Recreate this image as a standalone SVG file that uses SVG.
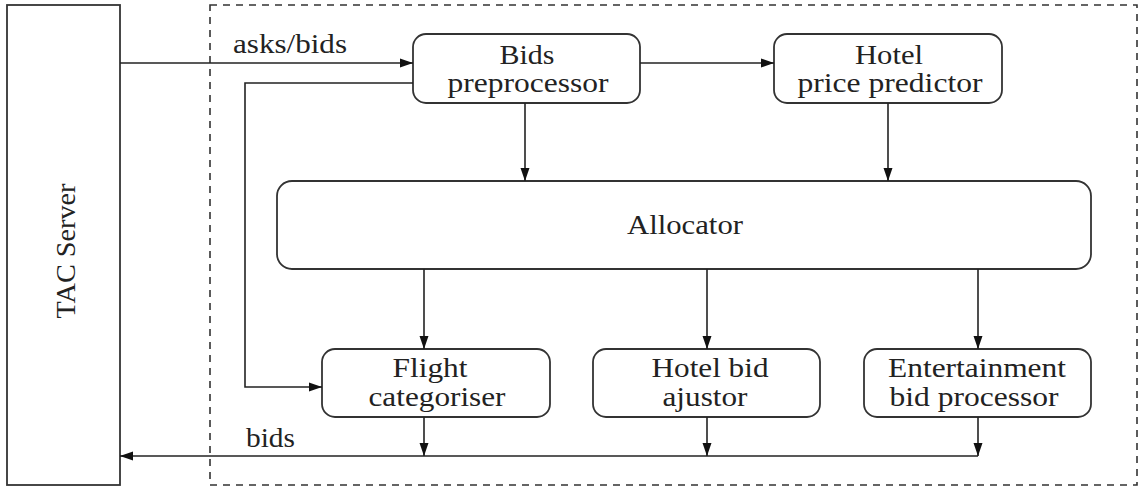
<svg xmlns="http://www.w3.org/2000/svg" width="1142" height="491" viewBox="0 0 1142 491">
<style>
.box{fill:#fff;stroke:#333;stroke-width:1.8}
.conn{fill:none;stroke:#222;stroke-width:1.6}
.t{font-family:"Liberation Serif","Times New Roman",serif;font-size:27px;fill:#222;text-anchor:middle}
.tl{font-family:"Liberation Serif","Times New Roman",serif;font-size:27px;fill:#222}
</style>
<defs>
<marker id="ah" markerUnits="userSpaceOnUse" markerWidth="14" markerHeight="10" refX="13" refY="5" orient="auto">
<path d="M0,0.5 L13,5 L0,9.5 z" fill="#111"/>
</marker>
</defs>
<rect x="0" y="0" width="1142" height="491" fill="#fff"/>
<g id="tac-server">
<rect class="box" x="7" y="5" width="113" height="480"/>
<text class="t" transform="translate(75,251) rotate(-90)" textLength="135" lengthAdjust="spacingAndGlyphs">TAC Server</text>
</g>
<g id="agent-boundary">
<rect x="210" y="5" width="927" height="480" fill="none" stroke="#333" stroke-width="1.6" stroke-dasharray="7 6"/>
</g>
<g id="bids-preprocessor">
<rect class="box" x="413" y="34" width="227" height="69" rx="13"/>
<text class="t" x="527" y="64" textLength="55" lengthAdjust="spacingAndGlyphs">Bids</text>
<text class="t" x="528" y="92" textLength="161" lengthAdjust="spacingAndGlyphs">preprocessor</text>
</g>
<g id="hotel-price-predictor">
<rect class="box" x="774" y="34" width="228" height="69" rx="13"/>
<text class="t" x="889" y="64" textLength="68" lengthAdjust="spacingAndGlyphs">Hotel</text>
<text class="t" x="890" y="92" textLength="185" lengthAdjust="spacingAndGlyphs">price predictor</text>
</g>
<g id="allocator">
<rect class="box" x="277" y="181" width="814" height="88" rx="15"/>
<text class="t" x="685" y="234" textLength="116" lengthAdjust="spacingAndGlyphs">Allocator</text>
</g>
<g id="flight-categoriser">
<rect class="box" x="322" y="349" width="228" height="68" rx="13"/>
<text class="t" x="430" y="377" textLength="75" lengthAdjust="spacingAndGlyphs">Flight</text>
<text class="t" x="437" y="406" textLength="137" lengthAdjust="spacingAndGlyphs">categoriser</text>
</g>
<g id="hotel-bid-ajustor">
<rect class="box" x="593" y="349" width="227" height="68" rx="13"/>
<text class="t" x="710" y="377" textLength="117" lengthAdjust="spacingAndGlyphs">Hotel bid</text>
<text class="t" x="705" y="406" textLength="85" lengthAdjust="spacingAndGlyphs">ajustor</text>
</g>
<g id="entertainment-bid-processor">
<rect class="box" x="864" y="349" width="227" height="68" rx="13"/>
<text class="t" x="977" y="377" textLength="178" lengthAdjust="spacingAndGlyphs">Entertainment</text>
<text class="t" x="974" y="406" textLength="169" lengthAdjust="spacingAndGlyphs">bid processor</text>
</g>
<g id="connectors">
<path class="conn" d="M120,63 H413" marker-end="url(#ah)"/>
<text class="tl" x="233" y="53" textLength="114" lengthAdjust="spacingAndGlyphs">asks/bids</text>
<path class="conn" d="M640,63 H774" marker-end="url(#ah)"/>
<path class="conn" d="M413,83 H245 V387 H322" marker-end="url(#ah)"/>
<path class="conn" d="M525,103 V181" marker-end="url(#ah)"/>
<path class="conn" d="M888,103 V181" marker-end="url(#ah)"/>
<path class="conn" d="M424,269 V349" marker-end="url(#ah)"/>
<path class="conn" d="M707,269 V349" marker-end="url(#ah)"/>
<path class="conn" d="M978,269 V349" marker-end="url(#ah)"/>
<path class="conn" d="M424,417 V456" marker-end="url(#ah)"/>
<path class="conn" d="M707,417 V456" marker-end="url(#ah)"/>
<path class="conn" d="M978,417 V456" marker-end="url(#ah)"/>
<path class="conn" d="M978,456 H120" marker-end="url(#ah)"/>
<text class="tl" x="246" y="447" textLength="49" lengthAdjust="spacingAndGlyphs">bids</text>
</g>
</svg>
